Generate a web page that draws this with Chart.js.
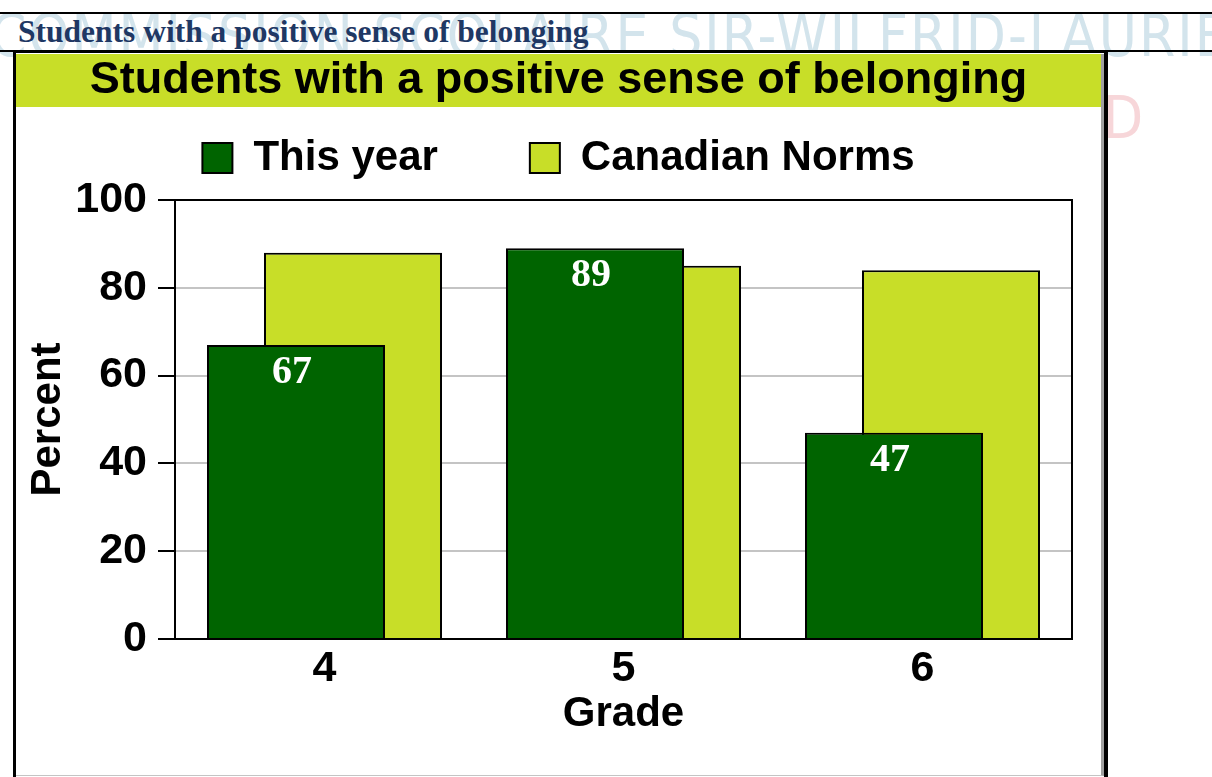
<!DOCTYPE html>
<html>
<head>
<meta charset="utf-8">
<title>Students with a positive sense of belonging</title>
<script src="https://cdn.jsdelivr.net/npm/chart.js@4.4.1/dist/chart.umd.min.js"></script>
<style>
  html, body { margin: 0; padding: 0; background: #fff; }
  body { position: relative; width: 1212px; height: 777px; overflow: hidden; }
  .wm { position: absolute; white-space: nowrap; z-index: 0; }
  #wmBlue { left: -10px; top: 2px; font: 58px "DejaVu Sans Condensed", "Liberation Sans", sans-serif; color: #d3e4ec; letter-spacing: 2px; }
  #wmRed { left: 1103px; top: 84px; font: 58px "DejaVu Sans Condensed", "Liberation Sans", sans-serif; color: #f7d6d9; }
  #topRule { position: absolute; left: 0; top: 12px; width: 1212px; height: 2px; background: #000; z-index: 1; }
  #heading { position: absolute; left: 18px; top: 16px; margin: 0; font: bold 31.5px/31px "Liberation Serif", "Times New Roman", serif; color: #1f3864; z-index: 2; white-space: nowrap; }
  #tableRule { position: absolute; left: 0; top: 50px; width: 1212px; height: 2px; background: #000; z-index: 1; }
  #frame { position: absolute; left: 13px; top: 50px; width: 1088px; height: 727px; border-left: 3px solid #000; border-top: 3px solid #000; border-right: 4px solid #000; background: #fff; z-index: 3; }
  #wrap { position: absolute; left: 0; top: 1px; width: 1085px; height: 721px; border-bottom: 1px solid #c4c4c4; border-right: 3px solid #a0a0a0; }
</style>
</head>
<body>
<div class="wm" id="wmBlue">COMMISSION SCOLAIRE SIR-WILFRID-LAURIER</div>
<div class="wm" id="wmRed">D</div>
<div id="topRule"></div>
<h1 id="heading">Students with a positive sense of belonging</h1>
<div id="tableRule"></div>
<div id="frame">
  <div id="wrap"><canvas id="belongingChart"></canvas></div>
</div>
<script>
// Chart data
var GRADES = ['4', '5', '6'];
var THIS_YEAR = [67, 89, 47];
var CANADIAN_NORMS = [88, 85, 84];
var SERIES_NAMES = ['This year', 'Canadian Norms'];

var GREEN = '#006400';
var LIME = '#c8de28';
var FONT = '"Liberation Sans", Arial, sans-serif';

Chart.defaults.font.family = FONT;
Chart.defaults.color = '#000';

// lime band behind the chart title
var titleBand = {
  id: 'titleBand',
  beforeDraw: function (chart) {
    var t = chart.titleBlock;
    var ctx = chart.ctx;
    ctx.save();
    ctx.fillStyle = LIME;
    ctx.fillRect(0, t.top, chart.width, 53);
    ctx.restore();
  }
};

// white value labels inside the "This year" bars
var valueLabels = {
  id: 'valueLabels',
  afterDatasetsDraw: function (chart) {
    var ctx = chart.ctx;
    var meta = chart.getDatasetMeta(0);
    ctx.save();
    ctx.fillStyle = '#fff';
    ctx.font = 'bold 40px "Liberation Serif", "Times New Roman", serif';
    ctx.textAlign = 'center';
    ctx.textBaseline = 'alphabetic';
    meta.data.forEach(function (bar, i) {
      ctx.fillText(String(THIS_YEAR[i]), bar.x - 4, bar.y + 38);
    });
    ctx.restore();
  }
};

var ctx = document.getElementById('belongingChart');
new Chart(ctx.getContext('2d'), {
  type: 'bar',
  data: {
    labels: GRADES,
    datasets: [{
      label: SERIES_NAMES[0],
      data: THIS_YEAR,
      backgroundColor: GREEN,
      borderColor: '#000',
      borderWidth: 2
    }, {
      label: SERIES_NAMES[1],
      data: CANADIAN_NORMS,
      backgroundColor: LIME,
      borderColor: '#000',
      borderWidth: 2
    }]
  },
  options: {
    responsive: true,
    maintainAspectRatio: false,
    animation: false,
    categoryPercentage: 0.3813,
    barPercentage: 3.1228,
    layout: { padding: 0 },
    plugins: {
      title: {
        display: true,
        text: 'Students with a positive sense of belonging',
        color: '#000',
        font: { size: 45, weight: 'bold', lineHeight: 1.178 },
        padding: { top: 0, bottom: 8 }
      },
      legend: {
        position: 'top',
        labels: {
          color: '#000',
          font: { size: 42, weight: 'bold' },
          boxWidth: 30,
          boxHeight: 30,
          padding: 22,
          generateLabels: function (chart) {
            var items = Chart.defaults.plugins.legend.labels.generateLabels(chart);
            items[0].text = items[0].text + '      ';
            return items;
          }
        }
      },
      tooltip: { enabled: false }
    },
    scales: {
      x: {
        grid: { display: false, drawTicks: false },
        border: { display: true, color: '#000', width: 2 },
        ticks: { color: '#000', font: { size: 43, weight: 'bold' }, padding: 4 },
        title: {
          display: true,
          text: 'Grade',
          color: '#000',
          font: { size: 42, weight: 'bold' },
          padding: { top: 0, bottom: 35 }
        },
        afterFit: function (s) { s.height = 136; }
      },
      xTop: {
        type: 'category',
        position: 'top',
        grid: { display: false, drawTicks: false },
        ticks: { display: false },
        border: { display: true, color: '#000', width: 2 },
        afterFit: function (s) { s.height = 11; }
      },
      y: {
        min: 0,
        max: 100,
        ticks: { stepSize: 20, color: '#000', font: { size: 43, weight: 'bold' }, padding: 11 },
        grid: { color: '#c4c4c4', lineWidth: 2, tickColor: '#000', tickLength: 17, tickWidth: 2 },
        border: { display: true, color: '#000', width: 2 },
        title: {
          display: true,
          text: 'Percent',
          color: '#000',
          font: { size: 42, weight: 'bold' },
          padding: { top: 7, bottom: 0 }
        },
        afterFit: function (s) { s.width = 159; }
      },
      yRight: {
        type: 'linear',
        position: 'right',
        grid: { display: false, drawTicks: false },
        ticks: { display: false },
        border: { display: true, color: '#000', width: 2 },
        afterFit: function (s) { s.width = 29; }
      }
    }
  },
  plugins: [titleBand, valueLabels]
});
</script>
</body>
</html>
